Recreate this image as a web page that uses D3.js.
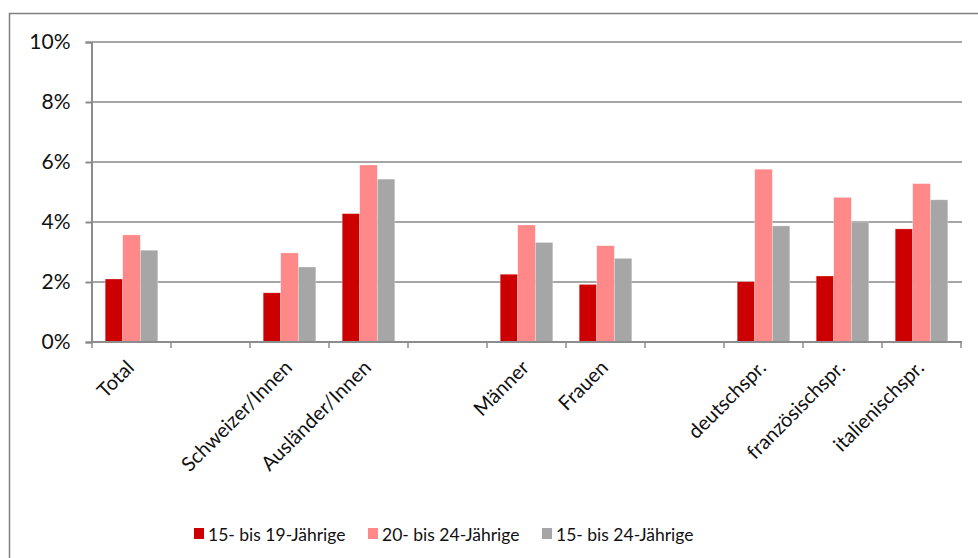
<!DOCTYPE html>
<html><head><meta charset="utf-8">
<script src="https://cdn.jsdelivr.net/npm/d3@7"></script>
<style>body{margin:0;background:#fff}svg{display:block}text{font-family:Lato,"Open Sans",sans-serif;fill:#111}</style>
</head><body><svg id="c" width="978" height="558"></svg>
<script>
const categories = ["Total","","Schweizer/Innen","Ausländer/Innen","","Männer","Frauen","","deutschspr.","französischspr.","italienischspr."];
const seriesNames = ["15- bis 19-Jährige","20- bis 24-Jährige","15- bis 24-Jährige"];
const s1519 = [2.10,null,1.64,4.28,null,2.26,1.92,null,2.01,2.20,3.77];
const s2024 = [3.57,null,2.97,5.90,null,3.90,3.21,null,5.76,4.82,5.28];
const s1524 = [3.06,null,2.50,5.43,null,3.32,2.79,null,3.87,4.00,4.74];
const yTicks = [0,2,4,6,8,10];
const colors = ["#CC0000","#FF8888","#A6A6A6"];
const series = [s1519,s2024,s1524];

(function(){
const svg = d3.select("#c");
const pL=92,pR=961,pT=42,pB=342;
// outer frame
svg.append("rect").attr("x",9.5).attr("y",13.5).attr("width",1000).attr("height",600)
  .attr("fill","none").attr("stroke","#7f7f7f").attr("stroke-width",1.5);

const x = d3.scaleBand().domain(d3.range(categories.length)).range([pL,pR]).paddingInner(0).paddingOuter(0);
const xs = d3.scaleBand().domain(d3.range(3)).range([0,x.bandwidth()]).paddingOuter(0.75).paddingInner(0);
const y = d3.scaleLinear().domain([0,10]).range([pB,pT]);

// gridlines
svg.append("g").selectAll("line").data(yTicks.filter(d=>d>0)).join("line")
  .attr("x1",pL).attr("x2",pR+1).attr("y1",d=>y(d)).attr("y2",d=>y(d))
  .attr("stroke","#a6a6a6").attr("stroke-width",2);

// bars
const g = svg.append("g");
series.forEach((s,si)=>{
  g.append("g").selectAll("rect").data(s.map((v,i)=>({v,i})).filter(d=>d.v!=null)).join("rect")
   .attr("x",d=>x(d.i)+xs(si)).attr("width",xs.bandwidth())
   .attr("y",d=>y(d.v)).attr("height",d=>y(0)-y(d.v))
   .attr("fill",colors[si]).attr("stroke","rgba(255,255,255,0.5)").attr("stroke-width",0.6);
});

// y axis
const ya = svg.append("g").attr("transform",`translate(${pL-0.5},0)`)
  .call(d3.axisLeft(y).tickValues(yTicks).tickFormat(d=>d+"%").tickSize(6).tickPadding(15));
ya.select(".domain").attr("stroke","#8c8c8c").attr("stroke-width",2);
ya.selectAll(".tick line").attr("stroke","#8c8c8c").attr("stroke-width",2);
ya.selectAll("text").style("font-size","21px").style("font-family","Lato,'Open Sans',sans-serif").attr("fill","#111");

// x axis
const xa = svg.append("g").attr("transform",`translate(0,${pB})`);
xa.append("line").attr("x1",pL-1).attr("x2",pR+1).attr("stroke","#8c8c8c").attr("stroke-width",2);
xa.selectAll("line.t").data(d3.range(categories.length+1)).join("line").attr("class","t")
  .attr("x1",i=>pL+i*x.step()).attr("x2",i=>pL+i*x.step()).attr("y1",0).attr("y2",6)
  .attr("stroke","#8c8c8c").attr("stroke-width",1.5);
xa.selectAll("text").data(categories.map((c,i)=>({c,i})).filter(d=>d.c)).join("text")
  .attr("transform",d=>`translate(${x(d.i)+x.bandwidth()/2-1},${22}) rotate(-45)`)
  .attr("text-anchor","end").attr("dy","0.35em").style("font-size","20px").text(d=>d.c);

// legend
const legX=[194,368,542];
const lg = svg.append("g");
seriesNames.forEach((n,i)=>{
  lg.append("rect").attr("x",legX[i]).attr("y",528).attr("width",10).attr("height",11).attr("fill",colors[i]);
  lg.append("text").attr("x",legX[i]+14).attr("y",541).style("font-size","17.5px").text(n);
});
})();
</script></body></html>
